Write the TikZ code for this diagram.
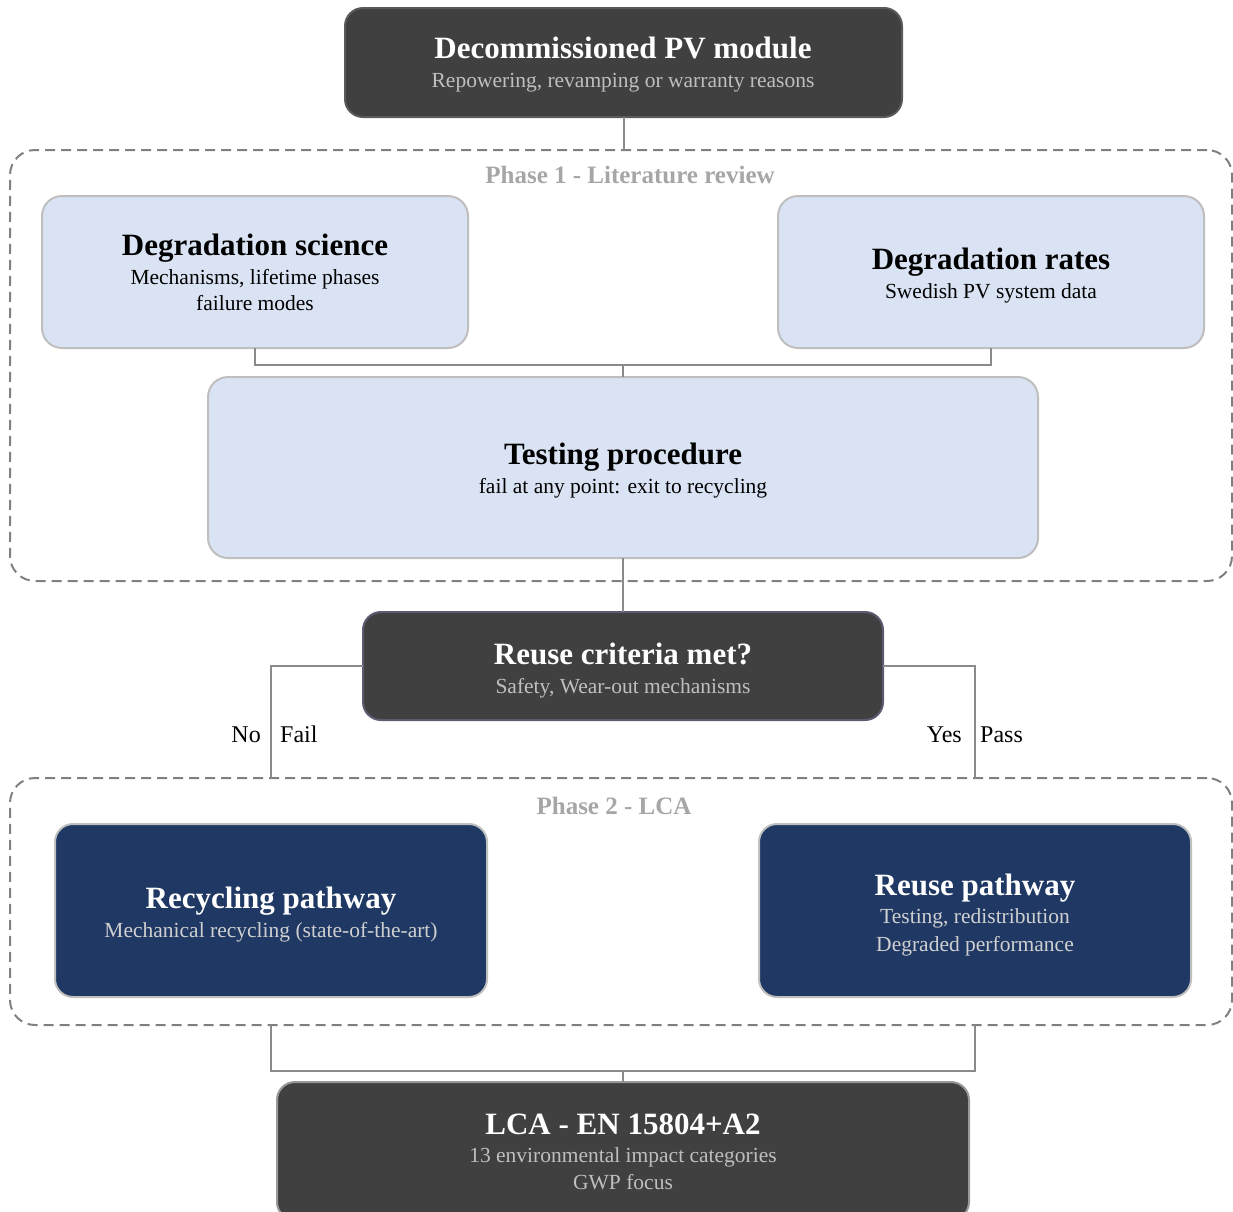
\documentclass[tikz,border=0pt]{standalone}
\usepackage{fontspec}
\setmainfont{Liberation Serif}
\definecolor{dark}{HTML}{404040}
\definecolor{darkedge}{HTML}{5A5A5A}
\definecolor{rcedge}{HTML}{5E5A72}
\definecolor{lightblue}{HTML}{DAE3F3}
\definecolor{lightedge}{HTML}{BFBFBF}
\definecolor{navy}{HTML}{1F3864}
\definecolor{dashgray}{HTML}{808080}
\definecolor{conngray}{HTML}{8A8A8A}
\definecolor{subgray}{HTML}{BFBFBF}
\definecolor{navysub}{HTML}{D0D0D0}
\definecolor{phgray}{HTML}{A6A6A6}
\tikzset{
  box/.style={rectangle, rounded corners=18pt, inner sep=0pt, outer sep=0pt, line width=2pt},
  darkbox/.style={box, fill=dark, draw=darkedge},
  lightbox/.style={box, fill=lightblue, draw=lightedge},
  navybox/.style={box, fill=navy, draw=lightedge},
  phasebox/.style={rectangle, rounded corners=25pt, inner sep=0pt, outer sep=0pt, draw=dashgray, line width=2pt, dash pattern=on 10pt off 6pt},
  conn/.style={draw=conngray, line width=2pt},
  ttl/.style={font=\fontsize{31}{36}\selectfont\bfseries, anchor=base, inner sep=0pt},
  sub/.style={font=\fontsize{21.5}{26}\selectfont, anchor=base, inner sep=0pt},
  phlabel/.style={font=\fontsize{25}{30}\selectfont\bfseries, text=phgray, anchor=base, inner sep=0pt},
  edgelabel/.style={font=\fontsize{24}{28}\selectfont, anchor=base, inner sep=0pt},
}
\begin{document}
\begin{tikzpicture}[x=1pt, y=-1pt]
\useasboundingbox (0,0) rectangle (1233,1211);
% phase containers
\node[phasebox, minimum width=1222pt, minimum height=431pt] (ph1) at (621,365.5) {};
\node[phasebox, minimum width=1222pt, minimum height=247pt] (ph2) at (621,901.5) {};
\node[phlabel] (ph1l) at (630,183) {Phase 1 - Literature review};
\node[phlabel] (ph2l) at (614,814) {Phase 2 - LCA};
% boxes
\node[darkbox, minimum width=557pt, minimum height=109pt] (top) at (623.5,62.5) {};
\node[lightbox, rounded corners=20pt, minimum width=426pt, minimum height=152pt] (ds) at (255,272) {};
\node[lightbox, rounded corners=20pt, minimum width=426pt, minimum height=152pt] (dr) at (991,272) {};
\node[lightbox, rounded corners=20pt, minimum width=830pt, minimum height=181pt] (tp) at (623,467.5) {};
\node[darkbox, draw=rcedge, minimum width=520pt, minimum height=108pt] (rc) at (623,666) {};
\node[navybox, minimum width=432pt, minimum height=173pt] (rec) at (271,910.5) {};
\node[navybox, minimum width=432pt, minimum height=173pt] (reu) at (975,910.5) {};
\node[darkbox, draw=lightedge!70!dark, minimum width=692pt, minimum height=138pt] (lca) at (623,1151) {};
% texts
\node[ttl, text=white] (topt) at (623,58) {Decommissioned PV module};
\node[sub, text=subgray] (tops) at (623,87) {Repowering, revamping or warranty reasons};
\node[ttl] (dst) at (255,255) {Degradation science};
\node[sub] (dss1) at (255,284) {Mechanisms, lifetime phases};
\node[sub] (dss2) at (255,310) {failure modes};
\node[ttl] (drt) at (991,269) {Degradation rates};
\node[sub] (drs) at (991,298) {Swedish PV system data};
\node[ttl] (tpt) at (623,464) {Testing procedure};
\node[sub] (tps) at (623,493) {fail at any point: exit to recycling};
\node[ttl, text=white] (rct) at (623,664) {Reuse criteria met?};
\node[sub, text=subgray] (rcs) at (623,693) {Safety, Wear-out mechanisms};
\node[ttl, text=white] (rect) at (271,908) {Recycling pathway};
\node[sub, text=navysub] (recs) at (271,937) {Mechanical recycling (state-of-the-art)};
\node[ttl, text=white] (reut) at (975,895) {Reuse pathway};
\node[sub, text=navysub] (reus1) at (975,923) {Testing, redistribution};
\node[sub, text=navysub] (reus2) at (975,951) {Degraded performance};
\node[ttl, text=white] (lcat) at (623,1134) {LCA - EN 15804+A2};
\node[sub, text=subgray] (lcas1) at (623,1162) {13 environmental impact categories};
\node[sub, text=subgray] (lcas2) at (623,1189) {GWP focus};
% connectors
\coordinate (j1) at (623,365);
\coordinate (j2) at (623,1071);
\draw[conn] (top.south) -- (top.south |- ph1.north);
\draw[conn] (ds.south) |- (j1) -| (dr.south);
\draw[conn] (j1) -- (tp.north);
\draw[conn] (tp.south) -- (rc.north);
\draw[conn] (rc.west) -| (rec.north |- ph2.north);
\draw[conn] (rc.east) -| (reu.north |- ph2.north);
\draw[conn] (rec.south |- ph2.south) |- (j2) -| (reu.south |- ph2.south);
\draw[conn] (j2) -- (lca.north);
% branch labels
\node[edgelabel, anchor=base east] (no) at (261,742) {No};
\node[edgelabel, anchor=base west] (fail) at (280,742) {Fail};
\node[edgelabel, anchor=base east] (yes) at (962,742) {Yes};
\node[edgelabel, anchor=base west] (pass) at (980,742) {Pass};
\end{tikzpicture}
\end{document}
